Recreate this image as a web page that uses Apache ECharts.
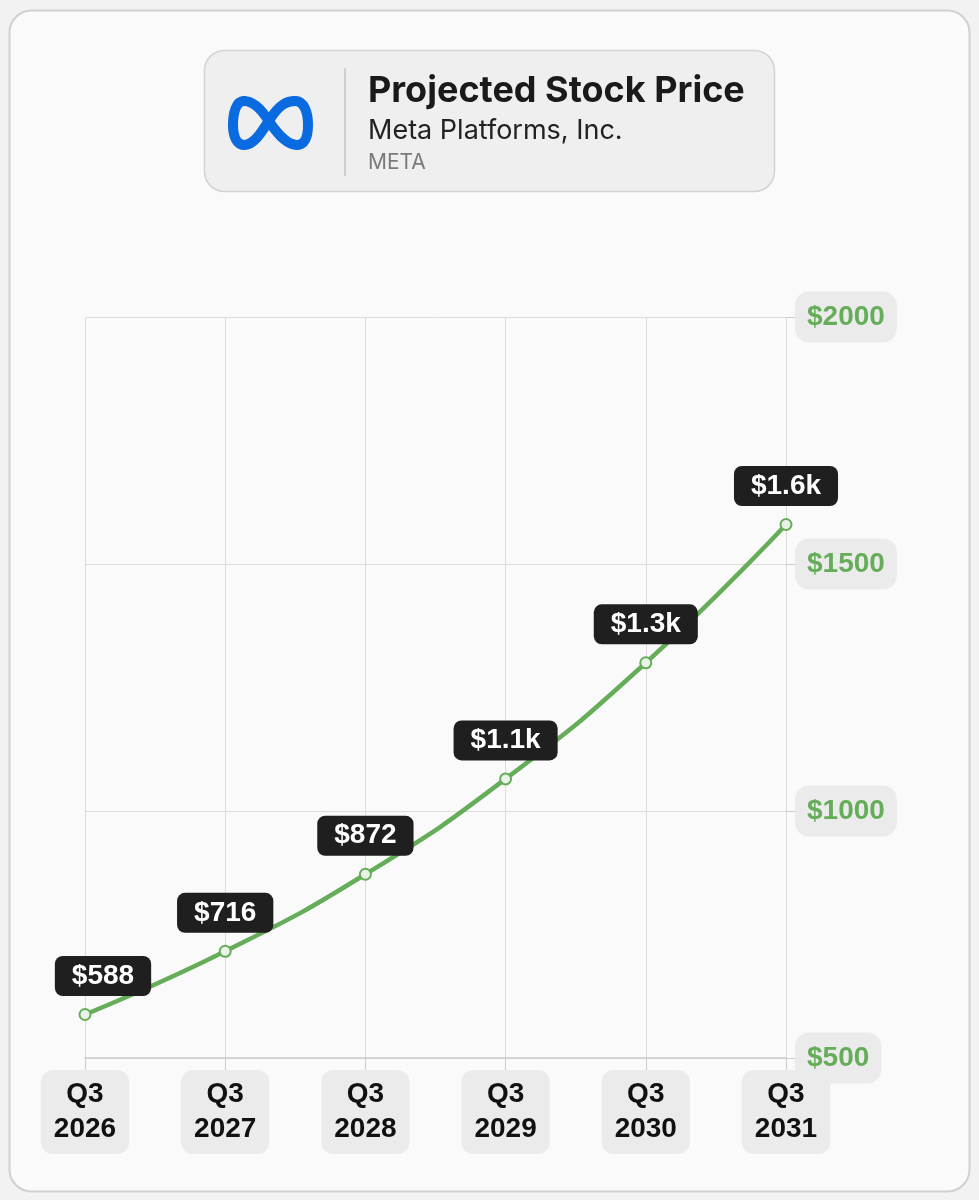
<!DOCTYPE html>
<html><head><meta charset="utf-8">
<script src="https://cdn.jsdelivr.net/npm/echarts@6/dist/echarts.min.js"></script>
<style>html,body{margin:0;padding:0;background:#f2f2f2}#c{width:979px;height:1200px}</style>
</head><body><div id="c"></div>
<script>
const categories = ['Q3\n2026','Q3\n2027','Q3\n2028','Q3\n2029','Q3\n2030','Q3\n2031'];
const prices = [588, 716, 872, 1065, 1300, 1580];
const priceLabels = ['$588','$716','$872','$1.1k','$1.3k','$1.6k'];
const yTicks = [500, 1000, 1500, 2000];
const titleText = 'Projected Stock Price';
const companyText = 'Meta Platforms, Inc.';
const tickerText = 'META';

const GREEN = '#66ad5a';
const chart = echarts.init(document.getElementById('c'), null, {renderer:'canvas'});
const seriesData = prices.map((v, i) => {
  const item = { value: v };
  if (i === 0) item.label = { offset: [18, 0] };
  return item;
});
// Meta logo outline as cubic segments: [x1,y1,cp1x,cp1y,cp2x,cp2y,x2,y2]
const logoSegs = [
  [42,28, 33,13, 24,6, 16,6], [16,6, 8,6, 5,18, 5,30], [5,30, 5,42, 9,50, 16,50],
  [16,50, 25,50, 32,40, 42,24], [42,24, 52,9, 59,6, 67,6], [67,6, 76,6, 80,17, 80,30],
  [80,30, 80,43, 76,50, 69,50], [69,50, 60,50, 52,42, 42,28]
];
const logoGrad = { type: 'linear', x: 228, y: 0, x2: 313, y2: 0, global: true,
  colorStops: [{ offset: 0, color: '#0a6ae0' }, { offset: 1, color: '#2a8cf4' }] };
const logoEls = logoSegs.map(s => ({
  type: 'bezierCurve', x: 228, y: 95,
  shape: { x1: s[0], y1: s[1], cpx1: s[2], cpy1: s[3], cpx2: s[4], cpy2: s[5], x2: s[6], y2: s[7] },
  style: { fill: null, stroke: logoGrad, lineWidth: 10, lineCap: 'round' }
}));
chart.setOption({
  backgroundColor: '#f2f2f2',
  animation: false,
  graphic: [
    { type: 'rect', z: -10, shape: { x: 9.5, y: 10.5, width: 960, height: 1181, r: 22 },
      style: { fill: '#fafafa', stroke: '#d0d0d0', lineWidth: 2 } },
    { type: 'rect', shape: { x: 204.5, y: 50.5, width: 570, height: 141, r: 20 },
      style: { fill: '#efefef', stroke: '#d3d3d3', lineWidth: 1.5 } },
    { type: 'line', shape: { x1: 345, y1: 68, x2: 345, y2: 176 },
      style: { stroke: '#cfcfcf', lineWidth: 2 } },
    ...logoEls,
    { type: 'text', x: 368, y: 91, style: { text: titleText, fill: '#1a1a1a',
        font: '700 36px Inter', verticalAlign: 'middle' } },
    { type: 'text', x: 368, y: 131, style: { text: companyText, fill: '#222',
        font: '400 27px Inter', verticalAlign: 'middle' } },
    { type: 'text', x: 368, y: 163, style: { text: tickerText, fill: '#7a7a7a',
        font: '400 21px Inter', verticalAlign: 'middle' } }
  ],
  grid: { left: 85, right: 193, top: 317, bottom: 142, containLabel: false },
  xAxis: {
    type: 'category', data: categories, boundaryGap: false,
    axisLine: { show: true, lineStyle: { color: '#cccccc', width: 1.5 } },
    axisTick: { show: true, length: 12, lineStyle: { color: '#cccccc' } },
    splitLine: { show: true, lineStyle: { color: '#dcdcdc', width: 1 } },
    axisLabel: {
      margin: 12, color: '#111', fontFamily: 'Liberation Sans', fontWeight: 'bold',
      fontSize: 28, lineHeight: 35, backgroundColor: '#ebebeb', borderRadius: 12,
      padding: [7, 13], interval: 0
    }
  },
  yAxis: {
    type: 'value', position: 'right', min: 500, max: 2000, interval: 500,
    axisLine: { show: false },
    axisTick: { show: true, length: 10, lineStyle: { color: '#cccccc' } },
    splitLine: { show: true, lineStyle: { color: '#dcdcdc', width: 1 } },
    axisLabel: {
      margin: 9, color: GREEN, fontFamily: 'Liberation Sans', fontWeight: 'bold',
      fontSize: 28, backgroundColor: '#ebebeb', borderRadius: 14, padding: [12, 12, 11, 12],
      formatter: v => yTicks.includes(v) ? '$' + v : ''
    }
  },
  series: [{
    type: 'line', data: seriesData, smooth: true, showAllSymbol: true,
    symbol: 'circle', symbolSize: 11,
    lineStyle: { color: GREEN, width: 4.5 },
    itemStyle: { color: '#e9f3e7', borderColor: GREEN, borderWidth: 2 },
    label: {
      show: true, position: 'top', distance: 12,
      formatter: p => priceLabels[p.dataIndex],
      color: '#fff', backgroundColor: '#1f1f1f', borderRadius: 8,
      fontFamily: 'Liberation Sans', fontWeight: 'bold', fontSize: 28,
      padding: [6, 17]
    }
  }]
});
</script></body></html>
